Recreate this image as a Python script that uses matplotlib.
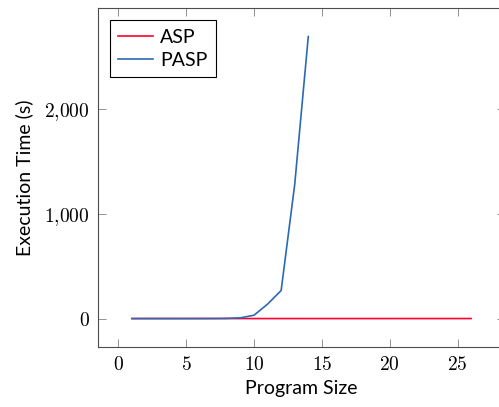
import numpy as np
import matplotlib
matplotlib.use("Agg")
import matplotlib.pyplot as plt
from matplotlib.ticker import FuncFormatter

plt.rcParams['mathtext.fontset'] = 'cm'
plt.rcParams['font.family'] = ['Lato', 'DejaVu Sans']

# Dati
asp_x = list(range(1, 27))
asp_y = [0.01, 0.01, 0.02, 0.02, 0.03, 0.03, 0.04, 0.05, 0.05, 0.06, 0.07, 0.08, 0.09,
         0.1, 0.11, 0.12, 0.13, 0.14, 0.15, 0.16, 0.18, 0.2, 0.21, 0.23, 0.25, 0.27]
pasp_x = list(range(1, 15))
pasp_y = [0.01, 0.02, 0.05, 0.1, 0.2, 0.4, 0.8, 2, 7, 32, 138, 268, 1280, 2692]

fig = plt.figure(figsize=(4.99, 4.07), dpi=100)
ax = fig.add_axes([0.1964, 0.148, 0.8156, 0.8314])

ax.plot(asp_x, asp_y, color='#ff0030', lw=1.2, label='ASP')
ax.plot(pasp_x, pasp_y, color='#2a6ab4', lw=1.2, label='PASP')

ax.set_xlim(-1.5, 28.5)
ax.set_ylim(-269.2, 2961.2)
ax.set_xticks([0, 5, 10, 15, 20, 25])
ax.set_yticks([0, 1000, 2000])
ax.xaxis.set_major_formatter(FuncFormatter(lambda v, p: r'$%d$' % v))
ax.yaxis.set_major_formatter(FuncFormatter(lambda v, p: (r'$%s$' % f'{int(v):,}').replace(',', '{,}')))
ax.tick_params(direction='in', length=5.5, width=0.6, color='0.5',
               top=True, right=True, labelsize=14, pad=6)
for s in ax.spines.values():
    s.set_linewidth(0.8)
    s.set_color('0.3')

ax.set_xlabel('Program Size', fontsize=14, labelpad=5)
ax.set_ylabel('Execution Time (s)', fontsize=14, labelpad=8)

leg = ax.legend(loc='upper left', fontsize=14, fancybox=False, framealpha=1,
                edgecolor='black', handlelength=1.8, borderpad=0.45,
                labelspacing=0.3, handletextpad=0.35, borderaxespad=0.6)
leg.get_frame().set_linewidth(0.8)

fig.savefig('out.png', dpi=100)
